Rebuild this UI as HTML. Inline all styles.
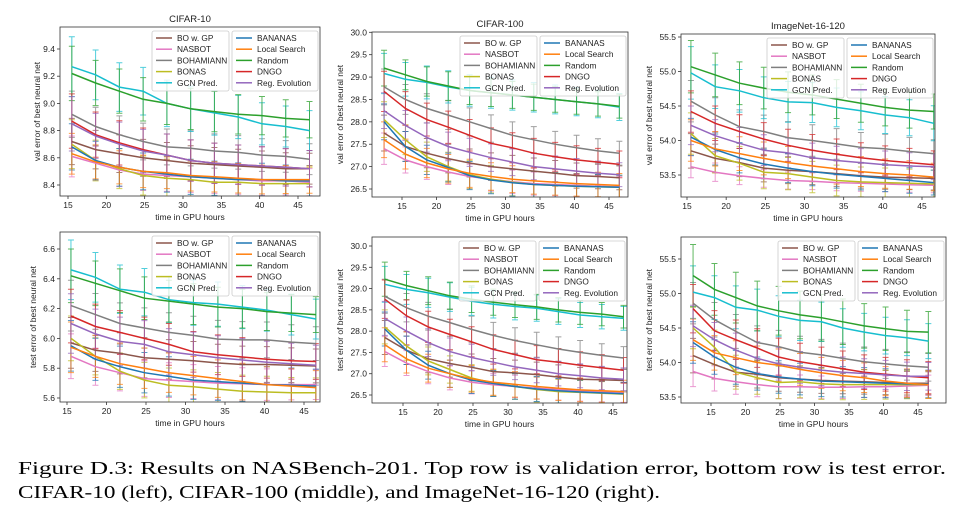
<!DOCTYPE html>
<html><head><meta charset="utf-8"><style>
html,body{margin:0;padding:0;background:#fff;}
svg{display:block;font-family:"Liberation Sans","DejaVu Sans",sans-serif;}
</style></head><body>
<svg id="fig" width="962" height="512" viewBox="0 0 962 512" xmlns="http://www.w3.org/2000/svg">
<text x="18" y="474" font-family="Liberation Serif, serif" font-size="17.5" textLength="928" lengthAdjust="spacingAndGlyphs">Figure D.3:  Results on NASBench-201.  Top row is validation error, bottom row is test error.</text>
<text x="18" y="498" font-family="Liberation Serif, serif" font-size="17.5" textLength="642" lengthAdjust="spacingAndGlyphs">CIFAR-10 (left), CIFAR-100 (middle), and ImageNet-16-120 (right).</text>
</svg>
<script>
const seriesNames = ["BO w. GP","NASBOT","BOHAMIANN","BONAS","GCN Pred.","BANANAS","Local Search","Random","DNGO","Reg. Evolution"];
const seriesColors = ["#8c564b","#e377c2","#7f7f7f","#bcbd22","#17becf","#1f77b4","#ff7f0e","#2ca02c","#d62728","#9467bd"];
const timesLate = [15.5,18.6,21.7,24.8,27.9,31.0,34.1,37.2,40.3,43.4,46.5];
const timesEarly = [12.4,15.5,18.6,21.7,24.8,27.9,31.0,34.1,37.2,40.3,43.4,46.5];

// CIFAR-10 validation
const c10Val = [
 [8.72,8.66,8.63,8.60,8.58,8.56,8.55,8.54,8.53,8.52,8.52],
 [8.61,8.56,8.51,8.48,8.47,8.46,8.45,8.44,8.43,8.43,8.42],
 [8.92,8.83,8.77,8.72,8.68,8.67,8.65,8.64,8.62,8.61,8.59],
 [8.70,8.58,8.52,8.47,8.45,8.44,8.42,8.42,8.41,8.41,8.41],
 [9.27,9.21,9.12,9.09,9.00,8.96,8.93,8.90,8.85,8.83,8.80],
 [8.68,8.58,8.53,8.50,8.48,8.46,8.45,8.44,8.44,8.43,8.43],
 [8.63,8.57,8.53,8.50,8.49,8.47,8.46,8.45,8.44,8.44,8.44],
 [9.22,9.15,9.09,9.03,9.00,8.96,8.94,8.92,8.91,8.89,8.88],
 [8.87,8.77,8.71,8.66,8.62,8.58,8.56,8.55,8.54,8.53,8.52],
 [8.85,8.76,8.70,8.65,8.62,8.58,8.56,8.55,8.54,8.53,8.52]];
const c10ValErr = [0.17,0.15,0.17,0.18,0.22,0.17,0.15,0.2,0.2,0.2];
// CIFAR-100 validation
const c100Val = [
 [27.75,27.45,27.3,27.18,27.08,27.0,26.95,26.9,26.85,26.8,26.78,26.75],
 [27.4,27.15,27.0,26.88,26.78,26.72,26.66,26.62,26.6,26.58,26.56,26.55],
 [28.78,28.5,28.3,28.15,28.0,27.85,27.7,27.6,27.5,27.42,27.35,27.3],
 [28.05,27.6,27.22,27.0,26.82,26.72,26.65,26.6,26.58,26.56,26.55,26.54],
 [29.08,28.95,28.88,28.78,28.7,28.65,28.6,28.55,28.5,28.45,28.4,28.33],
 [28.0,27.45,27.15,26.98,26.8,26.7,26.64,26.6,26.58,26.56,26.55,26.54],
 [27.6,27.28,27.08,26.95,26.85,26.78,26.72,26.68,26.65,26.62,26.6,26.58],
 [29.2,29.05,28.9,28.8,28.7,28.65,28.6,28.55,28.5,28.45,28.4,28.35],
 [28.68,28.3,28.05,27.88,27.7,27.52,27.42,27.3,27.22,27.15,27.1,27.05],
 [28.25,27.92,27.65,27.45,27.32,27.2,27.1,27.0,26.95,26.9,26.85,26.82]];
const c100ValErr = [0.4,0.35,0.4,0.4,0.45,0.4,0.4,0.4,0.45,0.4];
// ImageNet validation
const inVal = [
 [53.85,53.74,53.68,53.6,53.57,53.55,53.52,53.49,53.47,53.46,53.45],
 [53.62,53.54,53.49,53.45,53.42,53.41,53.39,53.38,53.37,53.36,53.35],
 [54.57,54.37,54.2,54.13,54.04,54.0,53.95,53.9,53.88,53.84,53.81],
 [54.1,53.78,53.67,53.54,53.52,53.47,53.42,53.4,53.39,53.38,53.37],
 [54.98,54.78,54.72,54.62,54.56,54.55,54.48,54.43,54.37,54.33,54.25],
 [54.05,53.87,53.75,53.66,53.6,53.55,53.51,53.48,53.45,53.42,53.39],
 [54.0,53.88,53.81,53.74,53.68,53.63,53.59,53.55,53.52,53.5,53.47],
 [55.07,54.95,54.83,54.76,54.7,54.66,54.6,54.54,54.48,54.44,54.42],
 [54.42,54.25,54.13,54.02,53.93,53.86,53.8,53.75,53.71,53.68,53.65],
 [54.22,54.07,53.96,53.86,53.82,53.75,53.71,53.68,53.65,53.63,53.62]];
const inValErr = [0.25,0.16,0.3,0.3,0.38,0.27,0.3,0.38,0.3,0.28];
// CIFAR-10 test
const c10Test = [
 [5.97,5.92,5.9,5.87,5.86,5.85,5.835,5.825,5.825,5.82,5.815],
 [5.88,5.81,5.77,5.73,5.72,5.71,5.7,5.695,5.69,5.69,5.69],
 [6.22,6.16,6.10,6.07,6.04,6.02,5.995,5.99,5.99,5.975,5.965],
 [6.0,5.88,5.78,5.72,5.685,5.675,5.66,5.645,5.64,5.635,5.635],
 [6.46,6.41,6.33,6.31,6.26,6.24,6.23,6.21,6.19,6.16,6.13],
 [5.95,5.86,5.81,5.77,5.745,5.72,5.71,5.7,5.69,5.685,5.68],
 [5.94,5.88,5.83,5.8,5.77,5.75,5.73,5.71,5.69,5.68,5.67],
 [6.42,6.37,6.32,6.27,6.25,6.23,6.21,6.2,6.18,6.17,6.16],
 [6.15,6.08,6.04,6.0,5.96,5.91,5.89,5.875,5.86,5.85,5.845],
 [6.1,6.03,5.98,5.96,5.91,5.89,5.87,5.855,5.84,5.83,5.82]];
const c10TestErr = [0.17,0.15,0.17,0.15,0.2,0.17,0.17,0.18,0.18,0.2];
// CIFAR-100 test
const c100Test = [
 [27.85,27.55,27.35,27.24,27.15,27.05,27.02,26.98,26.92,26.87,26.86,26.84],
 [27.52,27.25,27.05,26.9,26.8,26.74,26.7,26.66,26.63,26.6,26.58,26.56],
 [28.82,28.55,28.35,28.2,28.04,27.9,27.78,27.68,27.58,27.5,27.43,27.37],
 [28.1,27.65,27.3,27.1,26.9,26.78,26.7,26.63,26.58,26.56,26.54,26.52],
 [29.1,28.98,28.9,28.8,28.7,28.63,28.58,28.54,28.46,28.38,28.34,28.3],
 [28.05,27.55,27.2,27.0,26.85,26.77,26.7,26.64,26.6,26.57,26.55,26.53],
 [27.68,27.35,27.13,27.0,26.88,26.8,26.75,26.7,26.66,26.62,26.6,26.58],
 [29.22,29.07,28.95,28.83,28.75,28.68,28.62,28.57,28.5,28.44,28.4,28.34],
 [28.75,28.36,28.1,27.92,27.75,27.57,27.45,27.33,27.27,27.2,27.14,27.08],
 [28.3,28.0,27.73,27.52,27.38,27.27,27.16,27.08,27.0,26.95,26.9,26.87]];
const c100TestErr = [0.4,0.35,0.4,0.4,0.42,0.4,0.4,0.4,0.45,0.4];
// ImageNet test
const inTest = [
 [54.1,53.97,53.86,53.83,53.78,53.76,53.74,53.73,53.72,53.71,53.7,53.7],
 [53.87,53.77,53.72,53.68,53.65,53.65,53.64,53.64,53.65,53.65,53.66,53.67],
 [54.86,54.62,54.45,54.29,54.23,54.15,54.11,54.06,54.01,53.98,53.95,53.93],
 [54.5,54.22,53.86,53.78,53.71,53.72,53.69,53.68,53.68,53.68,53.68,53.68],
 [55.02,54.94,54.8,54.76,54.67,54.61,54.59,54.5,54.44,54.39,54.36,54.31],
 [54.29,54.08,53.93,53.84,53.79,53.76,53.73,53.72,53.71,53.7,53.69,53.69],
 [54.33,54.14,54.07,54.0,53.96,53.9,53.85,53.81,53.78,53.73,53.7,53.68],
 [55.26,55.06,54.94,54.82,54.75,54.69,54.65,54.59,54.53,54.49,54.45,54.44],
 [54.78,54.46,54.33,54.21,54.08,54.01,53.96,53.91,53.86,53.83,53.8,53.78],
 [54.53,54.33,54.18,54.06,53.98,53.93,53.89,53.86,53.84,53.82,53.8,53.8]];
const inTestErr = [0.25,0.22,0.3,0.3,0.38,0.3,0.3,0.45,0.35,0.3];

const ticksC10Val = [8.4,8.6,8.8,9.0,9.2,9.4];
const ticksC10Test = [5.6,5.8,6.0,6.2,6.4,6.6];
const ticksC100 = [26.5,27.0,27.5,28.0,28.5,29.0,29.5,30.0];
const ticksIN = [53.5,54.0,54.5,55.0,55.5];
const xTicks = [15,20,25,30,35,40,45];

const NS = "http://www.w3.org/2000/svg";
const svg = document.getElementById("fig");
function mk(tag, attrs, parent){const e=document.createElementNS(NS,tag);for(const k in attrs)e.setAttribute(k,attrs[k]);(parent||svg).appendChild(e);return e;}

function panel(cfg){
  const g = mk("g",{});
  
  
  const {L,R,T,B} = cfg;
  const sx = v => cfg.x0p + (v - cfg.x0v) * (cfg.x1p - cfg.x0p) / (cfg.x1v - cfg.x0v);
  const sy = v => cfg.y0p + (v - cfg.y0v) * (cfg.y1p - cfg.y0p) / (cfg.y1v - cfg.y0v);
  const clip = mk("clipPath",{id:"clip-"+cfg.name},g);
  mk("rect",{x:L,y:T,width:R-L,height:B-T},clip);
  const plot = mk("g",{"clip-path":"url(#clip-"+cfg.name+")"},g);
  cfg.data.forEach((ser,si)=>{
    ser.forEach((v,i)=>{
      const x = sx(cfg.times[i]); const e = cfg.err[si]*(i===0?1:(0.85-0.2*i/ser.length));
      const y1 = sy(v-e), y2 = sy(v+e);
      const eb = mk("path",{d:`M${x},${y1}V${y2}M${x-3},${y1}h6M${x-3},${y2}h6`,stroke:seriesColors[si],"stroke-width":1,fill:"none",opacity:0.75},plot);
      
      
    });
  });
  cfg.data.forEach((ser,si)=>{
    const pts = ser.map((v,i)=>sx(cfg.times[i]).toFixed(1)+","+sy(v).toFixed(1)).join(" ");
    const pl = mk("polyline",{points:pts,fill:"none",stroke:seriesColors[si],"stroke-width":1.5},plot);
    
    
  });
  const fr = mk("rect",{x:L,y:T,width:R-L,height:B-T,fill:"none",stroke:"#333","stroke-width":0.8},g);
  
  
  cfg.yticks.forEach(v=>{
    const y = sy(v);
    mk("line",{x1:L-3,x2:L,y1:y,y2:y,stroke:"#333","stroke-width":0.8},g);
    const t = mk("text",{x:L-5,y:y+3,"font-size":8.5,"text-anchor":"end",fill:"#222"},g);
    t.textContent = v.toFixed(1);
    
    
  });
  xTicks.forEach(v=>{
    const x = sx(v);
    if(x<L||x>R) return;
    mk("line",{x1:x,x2:x,y1:B,y2:B+3,stroke:"#333","stroke-width":0.8},g);
    const t = mk("text",{x:x,y:B+12,"font-size":8.5,"text-anchor":"middle",fill:"#222"},g);
    t.textContent = v;
    
    
  });
  const xl = mk("text",{x:(L+R)/2,y:B+24,"font-size":8.5,"text-anchor":"middle",fill:"#222"},g);
  xl.textContent = "time in GPU hours";
  
  
  const yl = mk("text",{x:0,y:0,"font-size":8.5,"text-anchor":"middle",fill:"#222",transform:`translate(${L-cfg.ylOff},${(T+B)/2}) rotate(-90)`},g);
  yl.textContent = cfg.ylabel;
  
  
  if(cfg.title){
    const tt = mk("text",{x:(L+R)/2,y:T-5,"font-size":9.5,"text-anchor":"middle",fill:"#222"},g);
    tt.textContent = cfg.title;
    
    
  }
  const boxes = [[R-168,77,[0,1,2,3,4]],[R-88,86,[5,6,7,8,9]]];
  boxes.forEach(([bx,bw,idx],bi)=>{
    const lg = mk("g",{},g);
    
    
    mk("rect",{x:bx,y:T+4,width:bw,height:60,rx:2,fill:"#fff","fill-opacity":0.8,stroke:"#ccc","stroke-width":0.8},lg);
    idx.forEach((si,k)=>{
      const y = T+11+k*11.2;
      mk("line",{x1:bx+4,x2:bx+20,y1:y,y2:y,stroke:seriesColors[si],"stroke-width":1.5},lg);
      const t = mk("text",{x:bx+25,y:y+3,"font-size":8.3,fill:"#222"},lg);
      t.textContent = seriesNames[si];
      
      
    });
  });
}

panel({name:"cifar10-val",title:"CIFAR-10",L:60,R:320,T:27,B:196,x0v:15,x0p:68,x1v:45,x1p:298,y0v:8.4,y0p:185,y1v:9.4,y1p:49,times:timesLate,data:c10Val,err:c10ValErr,yticks:ticksC10Val,ylabel:"val error of best neural net",ylOff:20});
panel({name:"cifar100-val",title:"CIFAR-100",L:372,R:628,T:32,B:197,x0v:15,x0p:402,x1v:45,x1p:609,y0v:26.5,y0p:189,y1v:30.0,y1p:32.3,times:timesEarly,data:c100Val,err:c100ValErr,yticks:ticksC100,ylabel:"val error of best neural net",ylOff:29});
panel({name:"imagenet-val",title:"ImageNet-16-120",L:681,R:935,T:34,B:197,x0v:15,x0p:687,x1v:45,x1p:922,y0v:53.5,y0p:175,y1v:55.5,y1p:37,times:timesLate,data:inVal,err:inValErr,yticks:ticksIN,ylabel:"val error of best neural net",ylOff:29});
panel({name:"cifar10-test",title:"",L:60,R:320,T:232,B:402,x0v:15,x0p:67,x1v:45,x1p:304,y0v:5.6,y0p:398,y1v:6.6,y1p:249,times:timesLate,data:c10Test,err:c10TestErr,yticks:ticksC10Test,ylabel:"test error of best neural net",ylOff:24});
panel({name:"cifar100-test",title:"",L:372,R:627,T:237,B:403,x0v:15,x0p:403,x1v:45,x1p:613,y0v:26.5,y0p:395,y1v:30.0,y1p:246,times:timesEarly,data:c100Test,err:c100TestErr,yticks:ticksC100,ylabel:"test error of best neural net",ylOff:29});
panel({name:"imagenet-test",title:"",L:681,R:946,T:237,B:403,x0v:15,x0p:711,x1v:45,x1p:918,y0v:53.5,y0p:397,y1v:55.5,y1p:259,times:timesEarly,data:inTest,err:inTestErr,yticks:ticksIN,ylabel:"test error of best neural net",ylOff:29});
</script>
</body></html>
